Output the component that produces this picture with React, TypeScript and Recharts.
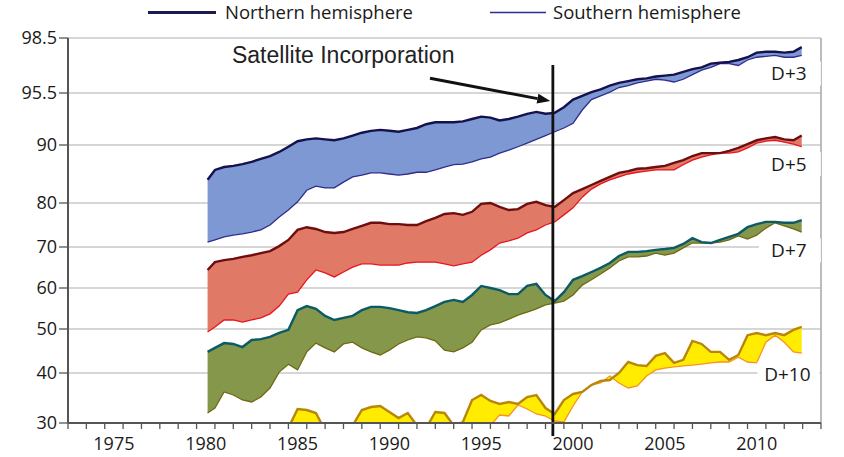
// @ts-nocheck
import {
  ComposedChart, Area, Line, XAxis, YAxis, CartesianGrid,
  ReferenceLine, ReferenceDot,
} from 'recharts';

// time axis of the 12-month running means (years)
const YEARS = [
  1980.6, 1981.0, 1981.5, 1982.0, 1982.5, 1983.0, 1983.5, 1984.0, 1984.5, 1985.0,
  1985.5, 1986.0, 1986.5, 1987.0, 1987.5, 1988.0, 1988.5, 1989.0, 1989.5, 1990.0,
  1990.5, 1991.0, 1991.5, 1992.0, 1992.5, 1993.0, 1993.5, 1994.0, 1994.5, 1995.0,
  1995.5, 1996.0, 1996.5, 1997.0, 1997.5, 1998.0, 1998.5, 1999.0, 1999.5, 2000.0,
  2000.5, 2001.0, 2001.5, 2002.0, 2002.5, 2003.0, 2003.5, 2004.0, 2004.5, 2005.0,
  2005.5, 2006.0, 2006.5, 2007.0, 2007.5, 2008.0, 2008.5, 2009.0, 2009.5, 2010.0,
  2010.5, 2011.0, 2011.5, 2012.0, 2012.5, 2012.95,
];

const D3_NH = [
  84.0, 85.7, 86.2, 86.4, 86.7, 87.1, 87.6, 88.1, 88.8, 89.7,
  90.4, 90.6, 90.7, 90.6, 90.5, 90.7, 91.0, 91.3, 91.5, 91.6,
  91.5, 91.4, 91.6, 91.8, 92.2, 92.4, 92.4, 92.4, 92.5, 92.75,
  93.0, 92.9, 92.6, 92.75, 93.0, 93.3, 93.5, 93.3, 93.4, 94.0,
  94.8, 95.2, 95.55, 95.7, 95.9, 96.05, 96.15, 96.25, 96.3, 96.4,
  96.45, 96.5, 96.65, 96.8, 96.9, 97.1, 97.15, 97.2, 97.3, 97.45,
  97.7, 97.75, 97.75, 97.7, 97.75, 98.0,
];
const D3_SH = [
  71.1, 71.6, 72.3, 72.7, 73.0, 73.4, 73.9, 75.0, 76.8, 78.4,
  80.2, 82.2, 82.9, 82.6, 82.6, 83.6, 84.5, 84.8, 85.2, 85.2,
  85.0, 84.8, 85.0, 85.3, 85.3, 85.7, 86.2, 86.6, 86.7, 87.1,
  87.6, 87.9, 88.6, 89.1, 89.7, 90.2, 90.6, 91.0, 91.4, 91.8,
  92.3, 93.7, 94.8, 95.2, 95.55, 95.8, 95.9, 96.05, 96.15, 96.25,
  96.2, 96.1, 96.25, 96.5, 96.75, 96.9, 97.1, 97.1, 97.0, 97.3,
  97.45, 97.5, 97.55, 97.45, 97.45, 97.55,
];
const D5_NH = [
  64.4, 66.3, 66.8, 67.1, 67.6, 68.0, 68.5, 69.0, 70.2, 71.6,
  73.9, 74.5, 74.1, 73.4, 73.2, 73.4, 74.1, 74.8, 75.5, 75.5,
  75.2, 75.2, 75.0, 75.0, 75.9, 76.6, 77.5, 77.7, 77.3, 78.0,
  79.8, 80.0, 79.1, 78.4, 78.6, 79.8, 80.2, 79.5, 79.1, 80.5,
  81.7, 82.4, 83.1, 83.8, 84.5, 85.2, 85.5, 85.9, 86.0, 86.2,
  86.4, 86.9, 87.4, 88.1, 88.6, 88.6, 88.6, 89.0, 89.5, 90.1,
  90.5, 90.7, 90.85, 90.6, 90.5, 91.0,
];
const D5_SH = [
  49.3, 50.5, 52.2, 52.2, 51.7, 52.2, 52.7, 53.7, 55.6, 58.5,
  59.0, 62.0, 64.4, 63.7, 62.7, 63.9, 65.1, 65.9, 65.9, 65.6,
  65.6, 65.6, 66.1, 66.3, 66.3, 66.3, 65.9, 65.4, 65.9, 66.3,
  68.0, 69.3, 70.9, 71.4, 72.0, 73.2, 73.9, 75.0, 75.7, 77.3,
  78.9, 81.0, 82.4, 83.3, 84.0, 84.5, 85.0, 85.3, 85.5, 85.7,
  85.7, 85.7, 86.6, 87.4, 87.9, 88.3, 88.6, 88.6, 88.8, 89.5,
  90.2, 90.4, 90.5, 90.3, 90.1, 89.7,
];
const D7_NH = [
  44.8, 45.7, 46.8, 46.6, 45.9, 47.5, 47.7, 48.2, 49.1, 49.8,
  54.6, 55.6, 54.9, 53.2, 52.2, 52.7, 53.2, 54.6, 55.4, 55.4,
  55.1, 54.6, 54.1, 53.9, 54.6, 55.6, 56.6, 57.1, 56.6, 58.3,
  60.5, 60.0, 59.5, 58.5, 58.5, 60.5, 61.0, 58.3, 56.8, 59.0,
  62.0, 62.9, 63.9, 64.9, 66.1, 67.8, 68.8, 68.8, 69.0, 69.3,
  69.5, 69.8, 70.7, 72.0, 71.1, 70.9, 71.6, 72.3, 73.0, 74.5,
  75.2, 75.7, 75.7, 75.5, 75.5, 76.1,
];
const D7_SH = [
  32.0, 33.0, 36.2, 35.6, 34.6, 34.2, 35.2, 37.0, 40.2, 42.0,
  40.7, 44.8, 46.8, 45.7, 44.8, 46.6, 47.0, 45.7, 44.8, 44.1,
  45.2, 46.6, 47.5, 48.2, 48.0, 47.3, 45.2, 44.8, 45.7, 47.0,
  49.8, 51.0, 51.5, 52.4, 53.4, 54.1, 54.9, 55.9, 56.3, 56.8,
  58.3, 60.7, 62.0, 63.4, 64.9, 66.6, 67.6, 67.6, 67.8, 68.5,
  68.0, 68.5, 69.8, 70.9, 70.9, 70.9, 71.1, 71.6, 72.5, 71.8,
  72.7, 74.3, 75.5, 74.8, 74.1, 73.4,
];
const D10_NH = [
  27.0, 27.0, 27.5, 27.0, 28.0, 28.0, 28.5, 29.0, 29.5, 29.0,
  32.8, 32.6, 32.0, 28.5, 29.0, 29.5, 29.5, 32.6, 33.2, 33.4,
  32.2, 31.0, 32.0, 29.5, 29.0, 32.2, 32.0, 29.5, 30.2, 34.6,
  35.6, 34.4, 33.8, 34.2, 33.8, 35.2, 35.6, 33.0, 31.8, 34.6,
  35.8, 36.2, 37.6, 38.4, 38.6, 40.0, 42.5, 41.8, 41.6, 43.9,
  44.5, 42.3, 43.0, 47.3, 46.6, 44.8, 44.8, 43.0, 44.1, 48.6,
  49.1, 48.6, 49.1, 48.6, 49.8, 50.5,
];
const D10_SH = [
  24.0, 24.5, 25.0, 25.0, 25.5, 25.0, 26.0, 26.5, 27.0, 27.0,
  28.0, 28.0, 27.5, 27.0, 27.5, 28.0, 28.0, 28.5, 28.5, 28.0,
  28.0, 28.0, 28.0, 27.5, 27.5, 28.0, 28.5, 28.0, 28.5, 29.0,
  29.0, 29.5, 31.6, 31.4, 33.6, 32.8, 31.8, 31.4, 30.4, 30.2,
  33.4, 36.2, 37.6, 38.0, 39.4, 38.0, 37.0, 37.4, 39.4, 40.7,
  41.1, 41.4, 41.6, 41.8, 42.0, 42.3, 42.5, 42.5, 43.6, 42.5,
  42.3, 47.0, 48.6, 47.0, 44.8, 44.5,
];

// y axis labels and their height above the 30 line: the original scale is stretched
const TICK_VALUES = [30, 40, 50, 60, 70, 80, 90, 95.5, 98.5];
const TICK_HEIGHTS = [0, 50, 94, 135, 176, 220, 278, 330, 385];

const TICK_YEARS = [
  1973, 1974, 1975, 1976, 1977, 1978, 1979, 1980, 1981, 1982, 1983, 1984, 1985, 1986,
  1987, 1988, 1989, 1990, 1991, 1992, 1993, 1994, 1995, 1996, 1997, 1998, 1999, 2000,
  2001, 2002, 2003, 2004, 2005, 2006, 2007, 2008, 2009, 2010, 2011, 2012, 2013, 2014,
];
const LABEL_YEARS = [1975, 1980, 1985, 1990, 1995, 2000, 2005, 2010];

const SATELLITE_YEAR = 1999.4;

const FONT = '"Open Sans", "Noto Sans", sans-serif';
const HALF_YEAR = (844 - 68 - 23) / 41 / 2;

function toAxis(v) {
  if (v <= TICK_VALUES[0]) return (v - TICK_VALUES[0]) * 5;
  for (let i = 1; i < TICK_VALUES.length; i++) {
    if (v <= TICK_VALUES[i]) {
      const t = (v - TICK_VALUES[i - 1]) / (TICK_VALUES[i] - TICK_VALUES[i - 1]);
      return TICK_HEIGHTS[i - 1] + t * (TICK_HEIGHTS[i] - TICK_HEIGHTS[i - 1]);
    }
  }
  return TICK_HEIGHTS[TICK_HEIGHTS.length - 1];
}

const RANGES = [
  { key: 'd3', label: 'D+3', at: [2012.25, 96.56], nh: D3_NH, sh: D3_SH, fill: '#7d98d2', nhColor: '#14124d', shColor: '#2e2c8c' },
  { key: 'd5', label: 'D+5', at: [2012.25, 86.72], nh: D5_NH, sh: D5_SH, fill: '#e07a66', nhColor: '#6e0e0e', shColor: '#e8141e' },
  { key: 'd7', label: 'D+7', at: [2012.25, 69.15], nh: D7_NH, sh: D7_SH, fill: '#84974a', nhColor: '#0c5a66', shColor: '#6f6a12' },
  { key: 'd10', label: 'D+10', at: [2012.17, 39.8], nh: D10_NH, sh: D10_SH, fill: '#ffec00', nhColor: '#b8860b', shColor: '#f7941d' },
];

const data = YEARS.map((year, i) => {
  const row = { year };
  RANGES.forEach((r) => {
    row[r.key] = [toAxis(r.sh[i]), toAxis(r.nh[i])];
    row[r.key + 'n'] = toAxis(r.nh[i]);
    row[r.key + 's'] = toAxis(r.sh[i]);
  });
  return row;
});

const fmtY = (v) => {
  const i = TICK_HEIGHTS.indexOf(v);
  return i < 0 ? '' : String(TICK_VALUES[i]);
};

function YearTick({ x, y, payload }) {
  if (!LABEL_YEARS.includes(payload.value)) return <g />;
  return (
    <text x={x + HALF_YEAR} y={y + 6} dy="0.71em" textAnchor="middle"
      fontSize={18} fontFamily={FONT} fill="#1a1a1a">
      {payload.value}
    </text>
  );
}

function Arrow({ x1, y1, x2, y2 }) {
  const ang = Math.atan2(y2 - y1, x2 - x1);
  const len = 13;
  const half = 5;
  const bx = x2 - len * Math.cos(ang);
  const by = y2 - len * Math.sin(ang);
  const nx = -Math.sin(ang) * half;
  const ny = Math.cos(ang) * half;
  return (
    <g>
      <text x={x1 - 198} y={y1 - 15} fontSize={23} fontFamily='"Liberation Sans", Arial, sans-serif' fill="#222">
        Satellite Incorporation
      </text>
      <line x1={x1} y1={y1} x2={bx} y2={by} stroke="#111" strokeWidth={3} />
      <polygon points={`${x2},${y2} ${bx + nx},${by + ny} ${bx - nx},${by - ny}`} fill="#111" />
    </g>
  );
}

const rangeLabel = (text) => ({ cx, cy }) => (
  <g>
    <rect x={cx - 30} y={cy - 12} width={62} height={24} fill="#fff" />
    <text x={cx} y={cy} dy="0.36em" textAnchor="middle" fontSize={19} fontFamily={FONT} fill="#1a1a1a">
      {text}
    </text>
  </g>
);

function Legend() {
  return (
    <svg width={844} height={30} style={{ position: 'absolute', left: 0, top: 0 }}>
      <line x1={148} y1={12.5} x2={216} y2={12.5} stroke="#1b1a55" strokeWidth={2.8} />
      <text x={225} y={19} fontSize={18.5} fontFamily={FONT} fill="#1a1a1a">Northern hemisphere</text>
      <line x1={490} y1={12.5} x2={546} y2={12.5} stroke="#2e2c8c" strokeWidth={1.3} />
      <text x={553} y={19} fontSize={18.5} fontFamily={FONT} fill="#1a1a1a">Southern hemisphere</text>
    </svg>
  );
}

export default function App() {
  return (
    <div style={{ position: 'absolute', left: 0, top: 0, width: 844, height: 457, background: '#fff' }}>
      <ComposedChart width={844} height={457} data={data}
        margin={{ top: 38, right: 23, left: 8, bottom: 4 }}>
        <CartesianGrid vertical={false} stroke="#c8c8c8" strokeWidth={1.3} />
        <XAxis type="number" dataKey="year" domain={[1973, 2014]} ticks={TICK_YEARS}
          interval={0} allowDataOverflow height={30} tickSize={6} tickMargin={2}
          tick={YearTick}
          axisLine={{ stroke: '#555', strokeWidth: 2 }}
          tickLine={{ stroke: '#555', strokeWidth: 1.3 }} />
        <YAxis type="number" domain={[0, 385]} ticks={TICK_HEIGHTS} interval={0}
          allowDataOverflow width={60} tickSize={9} tickMargin={2}
          tickFormatter={fmtY}
          tick={{ fontSize: 18, fill: '#1a1a1a', fontFamily: FONT }}
          axisLine={{ stroke: '#555', strokeWidth: 2 }}
          tickLine={{ stroke: '#555', strokeWidth: 1.3 }} />

        {RANGES.map((r) => (
          <Area key={r.key} dataKey={r.key} type="linear" stroke="none" fill={r.fill}
            fillOpacity={1} dot={false} activeDot={false} isAnimationActive={false} />
        ))}
        {RANGES.map((r) => (
          <Line key={r.key + 's'} dataKey={r.key + 's'} type="linear" stroke={r.shColor}
            strokeWidth={1.3} dot={false} activeDot={false} isAnimationActive={false} />
        ))}
        {RANGES.map((r) => (
          <Line key={r.key + 'n'} dataKey={r.key + 'n'} type="linear" stroke={r.nhColor}
            strokeWidth={2.4} dot={false} activeDot={false} isAnimationActive={false} />
        ))}

        {RANGES.map((r) => (
          <ReferenceDot key={r.key + 'lbl'} x={r.at[0]} y={toAxis(r.at[1])} r={0}
            shape={rangeLabel(r.label)} />
        ))}

        <ReferenceLine ifOverflow="visible" stroke="#111" strokeWidth={2.8}
          segment={[{ x: SATELLITE_YEAR, y: toAxis(97.03) }, { x: SATELLITE_YEAR, y: toAxis(27.4) }]} />
        <ReferenceLine ifOverflow="visible" shape={Arrow}
          segment={[{ x: 1992.71, y: toAxis(96.3) }, { x: 1999.26, y: toAxis(94.65) }]} />
        <ReferenceLine x={2014} ifOverflow="visible" stroke="#a6a6a6" strokeWidth={1.5} />
      </ComposedChart>
      <Legend />
    </div>
  );
}
